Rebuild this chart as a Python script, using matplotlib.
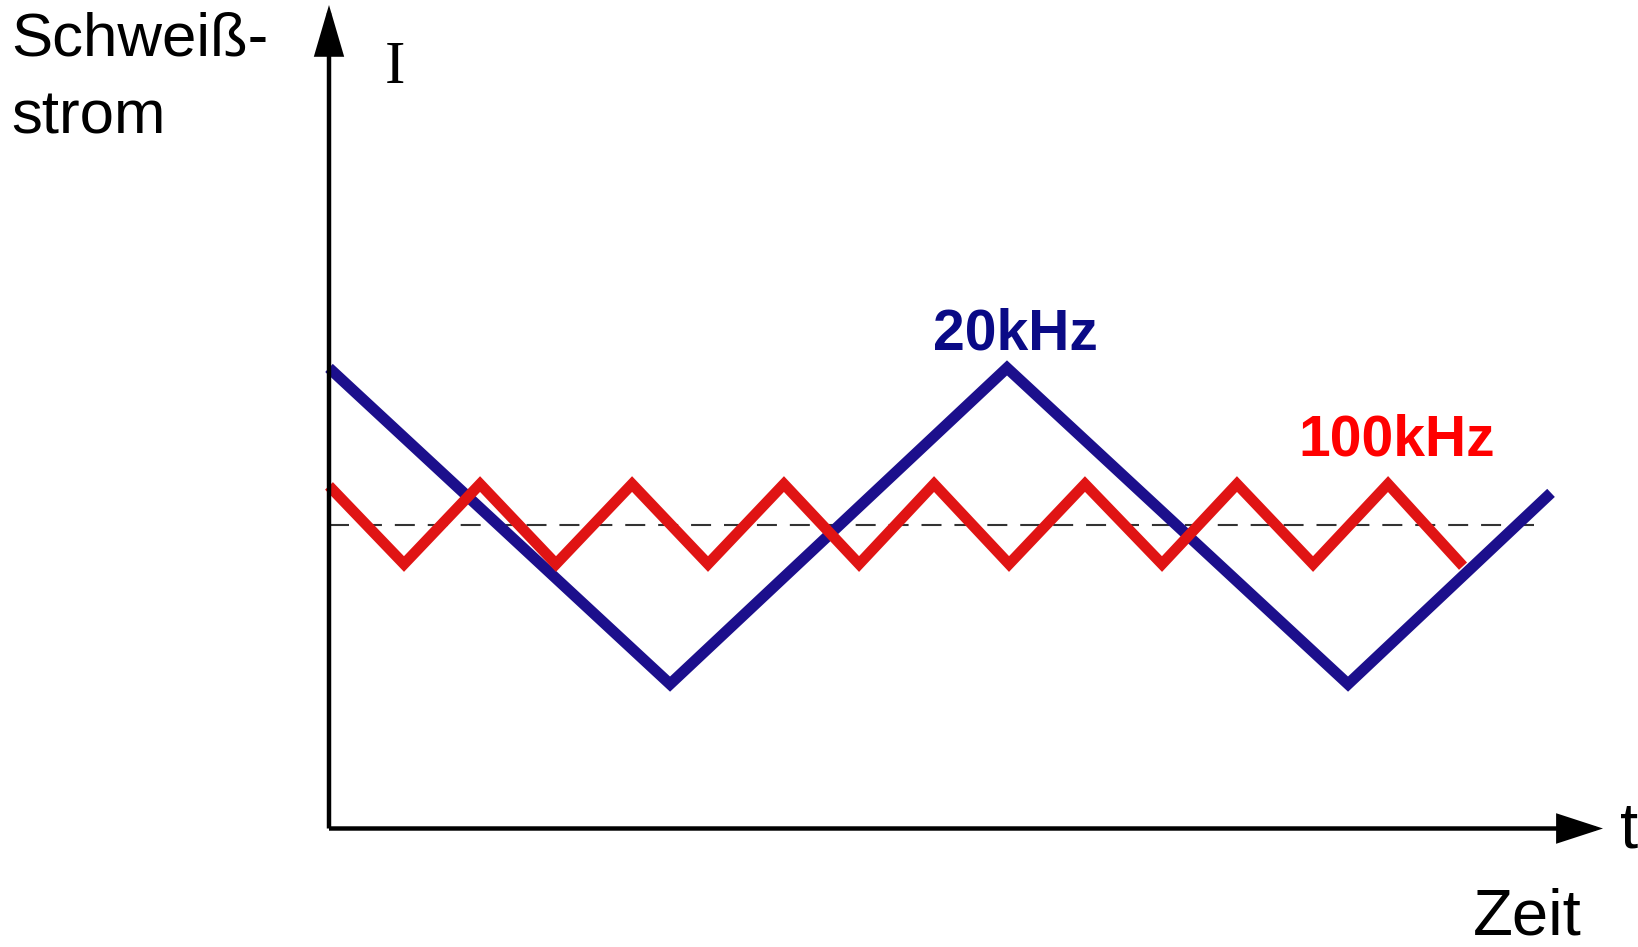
import matplotlib
matplotlib.use("Agg")
import matplotlib.pyplot as plt
from matplotlib.patches import FancyArrowPatch

# ---- data (time in µs, current in units of the mean welding current) ----
blue_t = [0.0, 25.15, 50.0, 75.15, 90.12]
blue_I = [1.515, 0.475, 1.515, 0.475, 1.104]

red_t = [0.0, 5.53, 11.14, 16.74, 22.35, 27.95, 33.55, 39.09, 44.62, 50.15,
         55.75, 61.43, 66.96, 72.57, 78.10, 83.63]
red_I = [1.127, 0.870, 1.133, 0.870, 1.133, 0.870, 1.133, 0.870, 1.133, 0.870,
         1.133, 0.870, 1.133, 0.870, 1.133, 0.863]

mean_t = [0.0, 89.3]
mean_I = [1.0, 1.0]

labels = {"blue": "20kHz", "red": "100kHz"}

# ---- layout ----
W, H = 1638, 947
PX_T = 13.56   # px per µs
PX_I = 304.0   # px per unit current
X0, Y0 = 329, 828.5  # origin in px

fig = plt.figure(figsize=(W / 100, H / 100), dpi=100)
ax = fig.add_axes([0, 0, 1, 1])
ax.set_xlim(-X0 / PX_T, (W - X0) / PX_T)
ax.set_ylim(-(H - Y0) / PX_I, Y0 / PX_I)
ax.axis("off")

BLUE = "#1c0f8c"
RED = "#e01414"

ax.plot(mean_t, mean_I, color="#333333", lw=1.5, linestyle=(0, (9.6, 6.2)), zorder=1)
ax.plot(blue_t, blue_I, color=BLUE, lw=8.0, solid_capstyle="butt",
        solid_joinstyle="miter", zorder=2)
ax.plot(red_t, red_I, color=RED, lw=7.8, solid_capstyle="butt",
        solid_joinstyle="miter", zorder=3)

# axes arrows
ax.add_patch(FancyArrowPatch((0, 0), (0, (Y0 - 5) / PX_I),
                             arrowstyle="-|>,head_length=30,head_width=8.8",
                             mutation_scale=1, lw=3.2, color="black",
                             shrinkA=0, shrinkB=0, joinstyle="miter",
                             capstyle="butt", zorder=4))
ax.add_patch(FancyArrowPatch((0, 0), ((1603 - X0) / PX_T, 0),
                             arrowstyle="-|>,head_length=27,head_width=8.8",
                             mutation_scale=1, lw=3.2, color="black",
                             shrinkA=0, shrinkB=0, joinstyle="miter",
                             capstyle="butt", zorder=4))

def fx(px):
    return px / W

def fy(py):
    return 1 - py / H

sans = ["Liberation Sans", "DejaVu Sans"]

fig.text(fx(11), fy(55), "Schweiß-", fontsize=44.5, family=sans, va="baseline", ha="left")
fig.text(fx(11), fy(134), "strom", fontsize=44.5, family=sans, va="baseline", ha="left")
fig.text(fx(385), fy(83), "I", fontsize=44, family=["Liberation Serif", "DejaVu Serif"],
         va="baseline", ha="left")
fig.text(fx(1620), fy(847), "t", fontsize=47, family=sans, va="baseline", ha="left")
fig.text(fx(1473), fy(934), "Zeit", fontsize=47, family=sans, va="baseline", ha="left")

fig.text(fx(1015), fy(350), labels["blue"], fontsize=41, family=sans, weight="bold",
         color="#0a0a86", va="baseline", ha="center")
fig.text(fx(1397), fy(455), labels["red"], fontsize=41, family=sans, weight="bold",
         color="#ff0000", va="baseline", ha="center")

fig.savefig("out.png", dpi=100)
